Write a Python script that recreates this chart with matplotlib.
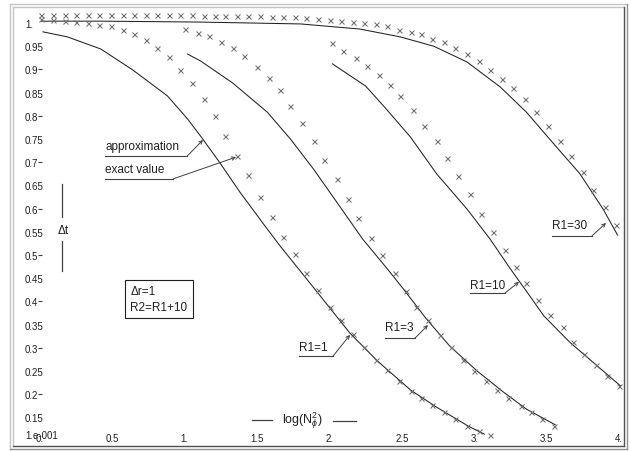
import matplotlib
matplotlib.use('Agg')
import matplotlib.pyplot as plt
import matplotlib.transforms as mtransforms
from matplotlib.lines import Line2D

plt.rcParams['font.family'] = ['Liberation Sans', 'DejaVu Sans']
plt.rcParams['mathtext.fontset'] = 'custom'
plt.rcParams['mathtext.rm'] = 'Liberation Sans'
plt.rcParams['mathtext.it'] = 'Liberation Sans:italic'

# log(N_phi^2) positions of the exact-value points (R1=1 and R1=30 share them)
x_exact = [0.01, 0.09, 0.17, 0.25, 0.33, 0.41, 0.49, 0.57, 0.65, 0.73,
           0.81, 0.89, 0.97, 1.05, 1.13, 1.21, 1.28, 1.36, 1.44, 1.52,
           1.60, 1.68, 1.76, 1.84, 1.92, 2.00, 2.08, 2.16, 2.24, 2.32,
           2.40, 2.48, 2.56, 2.63, 2.71, 2.79, 2.87, 2.95, 3.03, 3.11,
           3.19, 3.27, 3.35, 3.43, 3.51, 3.59, 3.67, 3.75, 3.82, 3.90, 3.98]
x_exact_r3 = [1.00, 1.09, 1.17, 1.25, 1.33, 1.41, 1.50, 1.58, 1.66, 1.73,
              1.81, 1.89, 1.96, 2.05, 2.13, 2.20, 2.29, 2.36, 2.45, 2.53,
              2.60, 2.68, 2.76, 2.84, 2.92, 3.00, 3.08, 3.16, 3.23, 3.32,
              3.39, 3.47, 3.55]
x_exact_r10 = [2.02, 2.09, 2.18, 2.26, 2.34, 2.42, 2.49, 2.58, 2.65, 2.74,
               2.81, 2.89, 2.97, 3.05, 3.13, 3.21, 3.29, 3.36, 3.44, 3.52,
               3.61, 3.68, 3.76, 3.84, 3.92, 4.00]

# exact values (crosses)
dt_exact_r1 = [1.009, 1.006, 1.004, 1.002, 1.000, 0.996, 0.994, 0.985, 0.976, 0.963,
               0.946, 0.927, 0.899, 0.871, 0.836, 0.800, 0.756, 0.713, 0.672, 0.625,
               0.582, 0.539, 0.502, 0.461, 0.425, 0.388, 0.360, 0.330, 0.302, 0.274,
               0.252, 0.228, 0.207, 0.192, 0.177, 0.162, 0.147, 0.131, 0.121, 0.112]
dt_exact_r3 = [0.987, 0.978, 0.972, 0.959, 0.946, 0.929, 0.905, 0.881, 0.856, 0.821,
               0.784, 0.746, 0.705, 0.664, 0.621, 0.580, 0.537, 0.500, 0.461, 0.422,
               0.388, 0.360, 0.328, 0.302, 0.274, 0.250, 0.228, 0.209, 0.192, 0.175,
               0.162, 0.147, 0.131]
dt_exact_r10 = [0.957, 0.940, 0.925, 0.907, 0.888, 0.866, 0.843, 0.813, 0.778, 0.746,
                0.709, 0.670, 0.631, 0.588, 0.550, 0.511, 0.474, 0.440, 0.403, 0.371,
                0.345, 0.313, 0.287, 0.263, 0.239, 0.218]
dt_exact_r30 = [1.017, 1.017, 1.017, 1.017, 1.017, 1.017, 1.017, 1.017, 1.017, 1.017,
                1.017, 1.017, 1.017, 1.017, 1.016, 1.016, 1.016, 1.015, 1.015, 1.015,
                1.014, 1.014, 1.012, 1.011, 1.009, 1.006, 1.004, 1.002, 1.000, 0.997,
                0.994, 0.985, 0.981, 0.976, 0.966, 0.959, 0.946, 0.933, 0.918, 0.899,
                0.879, 0.860, 0.836, 0.808, 0.778, 0.746, 0.713, 0.679, 0.640, 0.603,
                0.565]

# approximation (lines)
x_appr_r1 = [0.02, 0.19, 0.42, 0.64, 0.88, 1.02, 1.11, 1.24, 1.38, 1.57, 1.66,
             1.91, 2.14, 2.33, 2.56, 2.74, 2.96, 3.07]
dt_appr_r1 = [0.981, 0.970, 0.944, 0.899, 0.843, 0.793, 0.756, 0.700, 0.636, 0.556,
              0.519, 0.422, 0.332, 0.272, 0.209, 0.172, 0.131, 0.114]
x_appr_r3 = [1.02, 1.11, 1.33, 1.57, 1.73, 1.89, 2.05, 2.23, 2.40, 2.51, 2.67,
             2.83, 3.02, 3.20, 3.36, 3.56]
dt_appr_r3 = [0.933, 0.918, 0.871, 0.808, 0.750, 0.685, 0.614, 0.534, 0.470, 0.427,
              0.362, 0.304, 0.250, 0.205, 0.168, 0.134]
x_appr_r10 = [2.02, 2.25, 2.38, 2.56, 2.74, 2.95, 3.11, 3.25, 3.39, 3.48, 3.66,
              3.82, 4.01]
dt_appr_r10 = [0.912, 0.864, 0.819, 0.754, 0.675, 0.599, 0.534, 0.470, 0.409, 0.369,
               0.312, 0.269, 0.218]
x_appr_r30 = [0.01, 0.42, 1.11, 1.80, 2.21, 2.49, 2.72, 2.95, 3.18, 3.36, 3.52,
              3.73, 3.89, 3.99]
dt_appr_r30 = [1.004, 1.004, 1.002, 0.998, 0.987, 0.970, 0.950, 0.916, 0.862, 0.808,
               0.750, 0.675, 0.599, 0.543]

ytick_vals = [1.0, 0.95, 0.9, 0.85, 0.8, 0.75, 0.7, 0.65, 0.6, 0.55, 0.5,
              0.45, 0.4, 0.35, 0.3, 0.25, 0.2, 0.15, 0.1]
ytick_labels = ['1.', '0.95', '0.9', '0.85', '0.8', '0.75', '0.7', '0.65', '0.6',
                '0.55', '0.5', '0.45', '0.4', '0.35', '0.3', '0.25', '0.2', '0.15',
                '1.e-001']
ydash_vals = [0.9, 0.8, 0.7, 0.6, 0.5, 0.4, 0.3, 0.2]
xtick_vals = [0, 0.5, 1, 1.5, 2, 2.5, 3, 3.5, 4]
xtick_labels = ['0.', '0.5', '1.', '1.5', '2.', '2.5', '3.', '3.5', '4.']

W, H = 631, 452
fig = plt.figure(figsize=(W / 100, H / 100), dpi=100)
ax = fig.add_axes([40 / W, 1 - 447 / H, (624 - 40) / W, (447 - 8) / H])
ax.set_xlim(0, 4.0345)
ax.set_ylim(0.0884, 1.0345)
for s in ax.spines.values():
    s.set_visible(False)

line_kw = dict(color='#222222', lw=0.75, clip_on=False, zorder=2)
mark_kw = dict(ls='none', marker='x', ms=3.6, mew=0.75, color='#6e6e6e',
               clip_on=False, zorder=3)

ax.plot(x_appr_r1, dt_appr_r1, **line_kw)
ax.plot(x_appr_r3, dt_appr_r3, **line_kw)
ax.plot(x_appr_r10, dt_appr_r10, **line_kw)
ax.plot(x_appr_r30, dt_appr_r30, **line_kw)
ax.plot(x_exact[:len(dt_exact_r1)], dt_exact_r1, **mark_kw)
ax.plot(x_exact_r3, dt_exact_r3, **mark_kw)
ax.plot(x_exact_r10, dt_exact_r10, **mark_kw)
ax.plot(x_exact[:len(dt_exact_r30)], dt_exact_r30, **mark_kw)

# ticks: labels on every 0.05, small dashes on the 0.1 steps
ax.yaxis.remove_overlapping_locs = False
ax.set_yticks(ytick_vals, ytick_labels)
ax.set_yticks(ydash_vals, minor=True)
ax.tick_params(axis='y', which='major', length=0, pad=10.8, labelsize=7,
               labelcolor='#202020')
ax.tick_params(axis='y', which='minor', length=3.0, width=0.8,
               direction='inout', color='#404040')
for lab in ax.get_yticklabels():
    lab.set_ha('left')
last = ax.yaxis.get_major_ticks()[-1].label1
last.set_transform(last.get_transform() +
                   mtransforms.ScaledTranslation(0, 5 / 72, fig.dpi_scale_trans))
ax.set_xticks(xtick_vals, xtick_labels)
ax.tick_params(axis='x', length=0, pad=-9.4, labelsize=7, labelcolor='#202020')

txt_kw = dict(fontsize=8.5, color='#202020', ha='left', va='center')
ink = '#404040'


def leader(text, xt, yt, x_end, y_line, tip):
    ax.text(xt, yt, text, **txt_kw)
    ax.add_line(Line2D([xt, x_end], [y_line, y_line], color=ink, lw=0.8))
    ax.annotate('', xy=tip, xytext=(x_end, y_line),
                arrowprops=dict(arrowstyle='->', color=ink, lw=0.7,
                                shrinkA=0, shrinkB=0, mutation_scale=6))


leader('approximation', 0.45, 0.735, 1.016, 0.713, (1.126, 0.748))
leader('exact value', 0.45, 0.685, 0.919, 0.664, (1.354, 0.711))
leader('R1=1', 1.79, 0.301, 2.024, 0.282, (2.142, 0.328))
leader('R1=3', 2.38, 0.344, 2.591, 0.321, (2.680, 0.349))
leader('R1=10', 2.97, 0.436, 3.212, 0.418, (3.309, 0.442))
leader('R1=30', 3.54, 0.564, 3.813, 0.541, (3.910, 0.569))

# y axis title with bars
ax.add_line(Line2D([0.152, 0.152], [0.653, 0.582], color=ink, lw=0.9))
ax.text(0.159, 0.553, 'Δt', fontsize=8.5, color='#202020', ha='center', va='center')
ax.add_line(Line2D([0.152, 0.152], [0.530, 0.466], color=ink, lw=0.9))

# x axis title with bars
ax.add_line(Line2D([1.465, 1.603], [0.144, 0.144], color=ink, lw=0.9))
ax.text(1.814, 0.146, r'log(N$_{\phi}^{2}$)', fontsize=9, color='#202020',
        ha='center', va='center')
ax.add_line(Line2D([2.024, 2.183], [0.142, 0.142], color=ink, lw=0.9))

# parameter box
ax.text(0.625, 0.405, 'Δr=1\nR2=R1+10', fontsize=8.5, color='#202020',
        ha='left', va='center', linespacing=1.45,
        bbox=dict(boxstyle='square,pad=0.45', fc='white', ec='#202020', lw=0.8))


# window frame
def fline(x0, y0, x1, y1, color, lw=1.0):
    fig.add_artist(Line2D([x0 / W, x1 / W], [1 - y0 / H, 1 - y1 / H],
                          color=color, lw=lw, transform=fig.transFigure))


fline(10, 5, 627, 5, '#c4c4c4')
fline(10, 5, 10, 450, '#c4c4c4')
fline(13, 8, 624, 8, '#c4c4c4')
fline(13, 8, 13, 447, '#c4c4c4')
fline(624, 8, 624, 447, '#505050')
fline(13, 447, 624, 447, '#505050')
fline(627, 5, 627, 450, '#909090')
fline(10, 450, 627, 450, '#909090')

fig.savefig('out.png', dpi=100)
